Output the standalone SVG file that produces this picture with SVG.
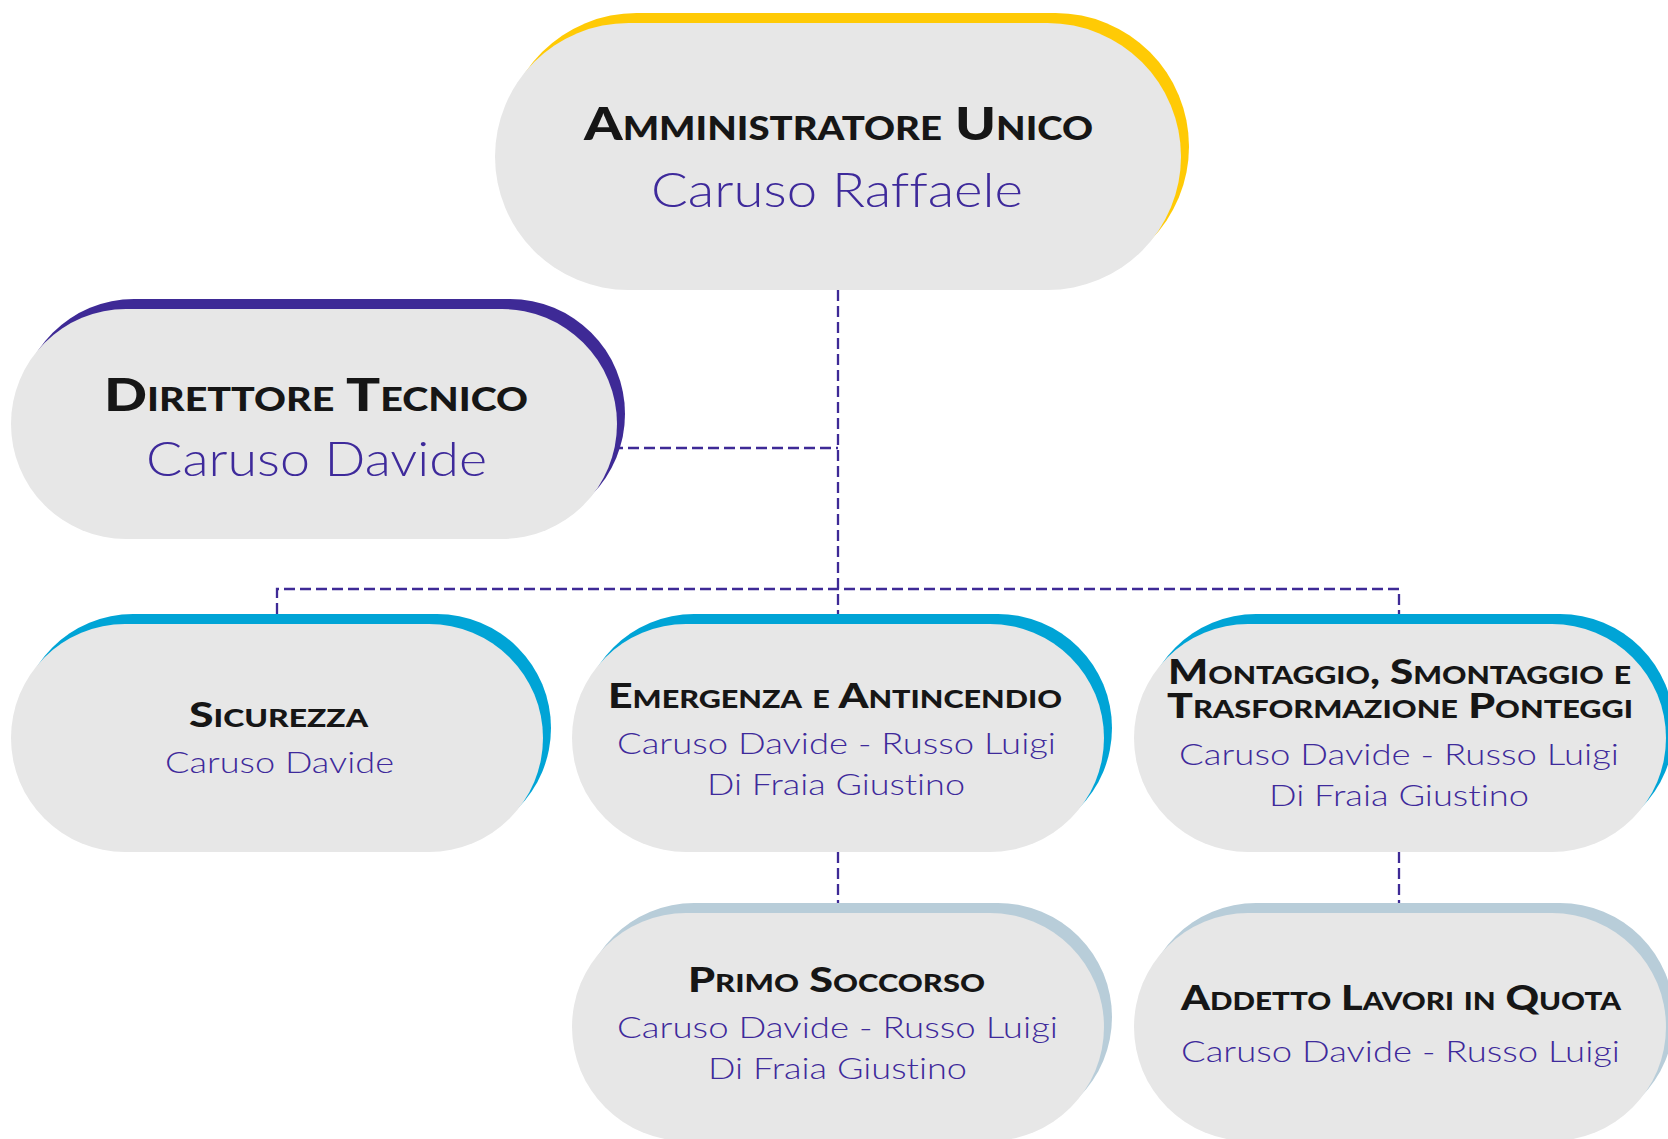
<svg xmlns="http://www.w3.org/2000/svg" width="1668" height="1139" viewBox="0 0 1668 1139">
<style>
.pill{fill:#e7e7e7}
.yellow{fill:#ffca05}
.purple{fill:#3e2a96}
.cyan{fill:#00a4d6}
.grey{fill:#b8cdd9}
.t{font-family:Lato,"Liberation Sans",sans-serif;font-weight:900;font-variant:small-caps;fill:#161616;text-anchor:middle}
.n{font-family:Lato,"Liberation Sans",sans-serif;font-weight:300;fill:#3e2a9b;text-anchor:middle;font-variant-ligatures:none}
.big{font-size:46px}
.sm{font-size:35px}
.nbig{font-size:47px}
.nsm{font-size:30px}
.conn{fill:none;stroke:#3e2a96;stroke-width:2.3;stroke-dasharray:11 5}
</style>
<rect width="1668" height="1139" fill="#ffffff"/>
<g id="connectors">
<path class="conn" d="M838,290 V614"/>
<path class="conn" d="M612,448 H838"/>
<path class="conn" d="M277,614 V589 H1399 V614"/>
<path class="conn" d="M838,852 V903"/>
<path class="conn" d="M1399,852 V903"/>
</g>
<g id="amministratore">
<rect class="yellow" x="503" y="13" width="686" height="267" rx="133.5"/>
<rect class="pill" x="495" y="23" width="686" height="267" rx="133.5"/>
<text class="t big" x="838.5" y="140" textLength="509" lengthAdjust="spacingAndGlyphs">Amministratore Unico</text>
<text class="n nbig" x="837" y="207" textLength="372" lengthAdjust="spacingAndGlyphs">Caruso Raffaele</text>
</g>
<g id="direttore">
<rect class="purple" x="19" y="299" width="606" height="230" rx="115"/>
<rect class="pill" x="11" y="309" width="606" height="230" rx="115"/>
<text class="t big" x="316" y="411" textLength="424" lengthAdjust="spacingAndGlyphs">Direttore Tecnico</text>
<text class="n nbig" x="316.5" y="476" textLength="341" lengthAdjust="spacingAndGlyphs">Caruso Davide</text>
</g>
<g id="sicurezza">
<rect class="cyan" x="19" y="614" width="532" height="228" rx="114"/>
<rect class="pill" x="11" y="624" width="532" height="228" rx="114"/>
<text class="t sm" x="278.5" y="727" textLength="179" lengthAdjust="spacingAndGlyphs">Sicurezza</text>
<text class="n nsm" x="279.5" y="773" textLength="229" lengthAdjust="spacingAndGlyphs">Caruso Davide</text>
</g>
<g id="emergenza">
<rect class="cyan" x="580" y="614" width="532" height="228" rx="114"/>
<rect class="pill" x="572" y="624" width="532" height="228" rx="114"/>
<text class="t sm" x="835" y="708" textLength="454" lengthAdjust="spacingAndGlyphs">Emergenza e Antincendio</text>
<text class="n nsm" x="836.5" y="754" textLength="439" lengthAdjust="spacingAndGlyphs">Caruso Davide - Russo Luigi</text>
<text class="n nsm" x="836" y="795" textLength="258" lengthAdjust="spacingAndGlyphs">Di Fraia Giustino</text>
</g>
<g id="montaggio">
<rect class="cyan" x="1142" y="614" width="532" height="228" rx="114"/>
<rect class="pill" x="1134" y="624" width="532" height="228" rx="114"/>
<text class="t sm" x="1399.5" y="684" textLength="463" lengthAdjust="spacingAndGlyphs">Montaggio, Smontaggio e</text>
<text class="t sm" x="1400" y="718" textLength="466" lengthAdjust="spacingAndGlyphs">Trasformazione Ponteggi</text>
<text class="n nsm" x="1399" y="765" textLength="440" lengthAdjust="spacingAndGlyphs">Caruso Davide - Russo Luigi</text>
<text class="n nsm" x="1399" y="806" textLength="260" lengthAdjust="spacingAndGlyphs">Di Fraia Giustino</text>
</g>
<g id="primo-soccorso">
<rect class="grey" x="580" y="903" width="532" height="228" rx="114"/>
<rect class="pill" x="572" y="913" width="532" height="228" rx="114"/>
<text class="t sm" x="836.5" y="992" textLength="297" lengthAdjust="spacingAndGlyphs">Primo Soccorso</text>
<text class="n nsm" x="837.5" y="1038" textLength="441" lengthAdjust="spacingAndGlyphs">Caruso Davide - Russo Luigi</text>
<text class="n nsm" x="837.5" y="1079" textLength="259" lengthAdjust="spacingAndGlyphs">Di Fraia Giustino</text>
</g>
<g id="addetto">
<rect class="grey" x="1142" y="903" width="532" height="228" rx="114"/>
<rect class="pill" x="1134" y="913" width="532" height="228" rx="114"/>
<text class="t sm" x="1401" y="1010" textLength="440" lengthAdjust="spacingAndGlyphs">Addetto Lavori in Quota</text>
<text class="n nsm" x="1400.5" y="1062" textLength="439" lengthAdjust="spacingAndGlyphs">Caruso Davide - Russo Luigi</text>
</g>
</svg>
